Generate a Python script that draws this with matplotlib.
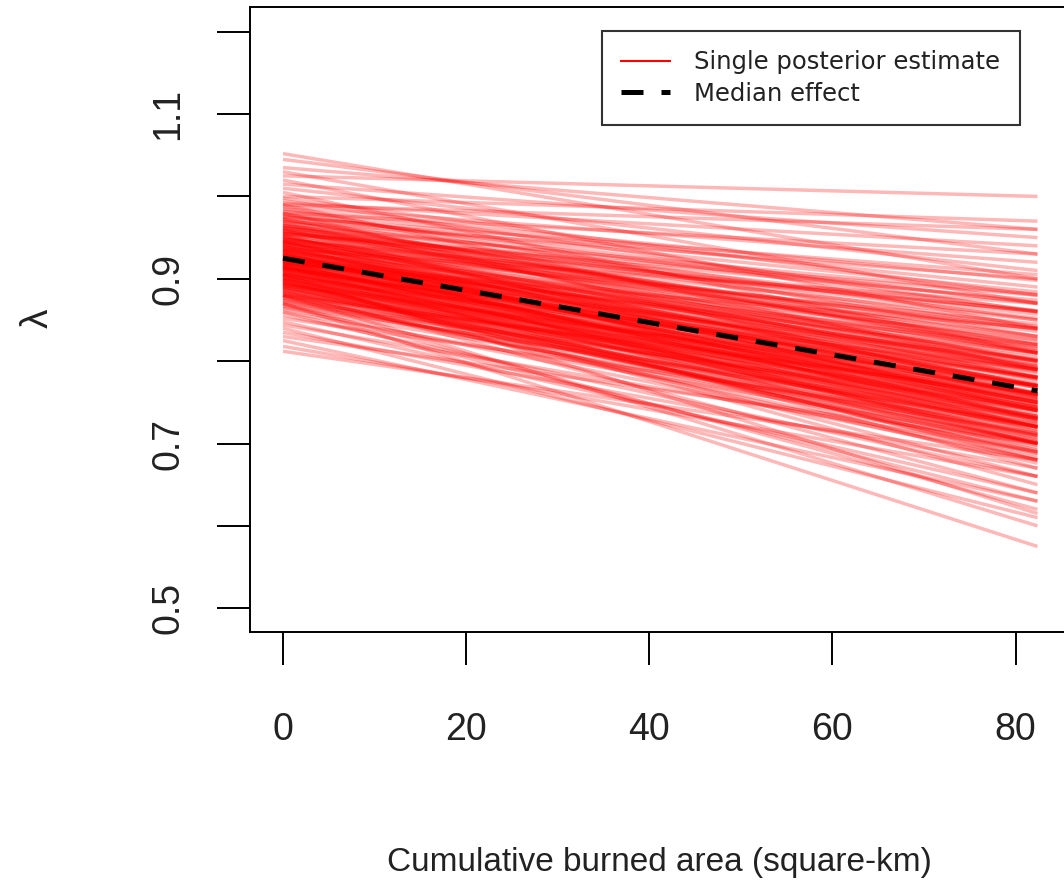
import numpy as np
import matplotlib.pyplot as plt
from matplotlib.lines import Line2D

plt.rcParams['font.family'] = ['Liberation Sans', 'DejaVu Sans']

# ---------- DATA ----------
# x range of the effect curves (cumulative burned area, square-km)
x_range = [0.0, 82.4]

# posterior draws: lambda at x = 0 and at x = 82.4
lam_start = [
    1.052, 1.045, 1.035, 1.030, 1.025, 1.020, 1.015, 1.010, 1.005, 1.000,
    0.998, 0.995, 0.992, 0.990, 0.988, 0.985, 0.982, 0.980, 0.978, 0.975,
    0.972, 0.970, 0.968, 0.965, 0.962, 0.960, 0.958, 0.955, 0.952, 0.950,
    0.948, 0.946, 0.944, 0.942, 0.940, 0.938, 0.936, 0.934, 0.932, 0.930,
    0.928, 0.926, 0.924, 0.922, 0.920, 0.918, 0.916, 0.914, 0.912, 0.910,
    0.908, 0.906, 0.904, 0.902, 0.900, 0.898, 0.896, 0.894, 0.892, 0.890,
    0.888, 0.885, 0.882, 0.880, 0.877, 0.874, 0.870, 0.867, 0.864, 0.860,
    0.856, 0.852, 0.848, 0.844, 0.840, 0.835, 0.830, 0.825, 0.818, 0.812,
    0.950, 0.940, 0.935, 0.930, 0.927, 0.925, 0.923, 0.920, 0.918, 0.915,
    0.912, 0.910, 0.945, 0.955, 0.960, 0.965, 0.970, 0.905, 0.900, 0.895,
    0.890, 0.885, 0.880, 0.875, 0.940, 0.930, 0.920, 0.935, 0.945, 0.925,
    0.870, 0.880, 0.905, 0.860, 0.980, 0.990, 0.975, 0.955, 0.915, 0.900,
    0.962, 0.958, 0.954, 0.951, 0.949, 0.947, 0.944, 0.941, 0.939, 0.937,
    0.935, 0.933, 0.931, 0.929, 0.927, 0.926, 0.924, 0.922, 0.921, 0.919,
    0.917, 0.916, 0.914, 0.912, 0.911, 0.909, 0.907, 0.905, 0.903, 0.901,
    0.899, 0.897, 0.895, 0.893, 0.891, 0.889, 0.886, 0.883, 0.880, 0.877,
    0.968, 0.972, 0.976, 0.966, 0.963, 0.957, 0.953, 0.948, 0.943, 0.938,
    0.934, 0.929, 0.926, 0.923, 0.919, 0.916, 0.913, 0.908, 0.904, 0.899,
    0.894, 0.889, 0.884, 0.879, 0.873, 0.869, 0.865, 0.946, 0.936, 0.928,
    0.921, 0.913, 0.906, 0.898, 0.892, 0.887, 0.959, 0.952, 0.942, 0.931,
    0.924, 0.918, 0.911, 0.902, 0.896, 0.955, 0.961, 0.944, 0.933, 0.922,
    0.915, 0.906, 0.893, 0.881, 0.871, 0.985, 0.979, 0.973, 0.964, 0.947,
]
lam_end = [
    0.900, 0.930, 0.960, 0.870, 1.000, 0.840, 0.950, 0.910, 0.810, 0.970,
    0.880, 0.860, 0.940, 0.790, 0.920, 0.830, 0.890, 0.760, 0.870, 0.850,
    0.810, 0.900, 0.780, 0.840, 0.860, 0.740, 0.820, 0.880, 0.800, 0.770,
    0.850, 0.720, 0.830, 0.790, 0.810, 0.750, 0.870, 0.780, 0.700, 0.800,
    0.760, 0.820, 0.730, 0.790, 0.770, 0.840, 0.710, 0.750, 0.780, 0.680,
    0.800, 0.740, 0.760, 0.720, 0.790, 0.660, 0.750, 0.730, 0.770, 0.700,
    0.740, 0.640, 0.720, 0.760, 0.690, 0.710, 0.620, 0.730, 0.680, 0.700,
    0.660, 0.720, 0.640, 0.690, 0.610, 0.670, 0.700, 0.630, 0.660, 0.680,
    0.790, 0.760, 0.740, 0.770, 0.750, 0.780, 0.760, 0.740, 0.730, 0.770,
    0.750, 0.720, 0.800, 0.810, 0.830, 0.800, 0.820, 0.700, 0.710, 0.690,
    0.720, 0.700, 0.680, 0.740, 0.730, 0.720, 0.700, 0.790, 0.770, 0.810,
    0.575, 0.600, 0.615, 0.630, 0.930, 0.960, 0.905, 0.860, 0.670, 0.650,
    0.852, 0.801, 0.836, 0.768, 0.822, 0.745, 0.812, 0.778, 0.731, 0.804,
    0.762, 0.826, 0.714, 0.787, 0.741, 0.795, 0.753, 0.705, 0.772, 0.818,
    0.733, 0.761, 0.692, 0.786, 0.744, 0.717, 0.768, 0.738, 0.682, 0.752,
    0.726, 0.761, 0.701, 0.742, 0.688, 0.733, 0.712, 0.748, 0.676, 0.721,
    0.871, 0.842, 0.884, 0.816, 0.792, 0.857, 0.781, 0.839, 0.756, 0.845,
    0.796, 0.758, 0.728, 0.808, 0.779, 0.747, 0.802, 0.726, 0.781, 0.744,
    0.771, 0.707, 0.731, 0.758, 0.698, 0.724, 0.712, 0.792, 0.771, 0.749,
    0.734, 0.758, 0.709, 0.715, 0.754, 0.695, 0.815, 0.757, 0.794, 0.781,
    0.768, 0.721, 0.776, 0.733, 0.686, 0.874, 0.826, 0.839, 0.743, 0.789,
    0.704, 0.754, 0.722, 0.702, 0.744, 0.898, 0.861, 0.812, 0.881, 0.861,
]

# median effect line
median_start = 0.925
median_end = 0.764

x_ticks = [0, 20, 40, 60, 80]
y_ticks = [0.5, 0.6, 0.7, 0.8, 0.9, 1.0, 1.1, 1.2]
y_ticklabels = ['0.5', '', '0.7', '', '0.9', '', '1.1', '']

# ---------- PLOT ----------
fig = plt.figure(figsize=(10.64, 8.88), dpi=100)
ax = fig.add_axes([0.2350, 0.2883, 0.8365, 0.7038])

for a, b in zip(lam_start, lam_end):
    ax.plot(x_range, [a, b], color='red', alpha=0.28, lw=2.5, solid_capstyle='butt')

ax.plot(x_range, [median_start, median_end], color='black', lw=3.6,
        linestyle=(0, (4.4, 3.6)))

ax.set_xlim(-3.6, 93.6)
ax.set_ylim(0.4712, 1.230)

ax.set_xticks(x_ticks)
ax.set_xticklabels([str(t) for t in x_ticks])
ax.set_yticks(y_ticks)
ax.set_yticklabels(y_ticklabels, rotation=90, va='center')

ax.tick_params(axis='both', direction='out', length=23.8, width=1.4,
               labelsize=27, colors='black', labelcolor='#222222')
ax.tick_params(axis='x', pad=34)
ax.tick_params(axis='y', pad=22)
for s in ax.spines.values():
    s.set_linewidth(1.4)

fig.text(0.035, 1 - 318 / 888, 'λ', rotation=90, fontsize=28,
         ha='center', va='center', color='#222222')
fig.text(0.62, 1 - 862 / 888, 'Cumulative burned area (square-km)',
         fontsize=24, ha='center', va='center', color='#222222')

handles = [Line2D([], [], color='red', lw=1.5),
           Line2D([], [], color='black', lw=3.6, linestyle=(0, (4.4, 3.6)))]
leg = ax.legend(handles, ['Single posterior estimate', 'Median effect'],
                loc='upper left', bbox_to_anchor=(602 / 1064, 1 - 31 / 888),
                bbox_transform=fig.transFigure, frameon=True,
                prop={'family': 'DejaVu Sans', 'size': 17.5},
                fancybox=False, edgecolor='black', handlelength=2.0,
                borderpad=0.8, labelspacing=0.3, handletextpad=1.0,
                borderaxespad=0)
leg.get_frame().set_linewidth(1.5)
for t in leg.get_texts():
    t.set_color('#222222')

fig.savefig('out.png', dpi=100)
